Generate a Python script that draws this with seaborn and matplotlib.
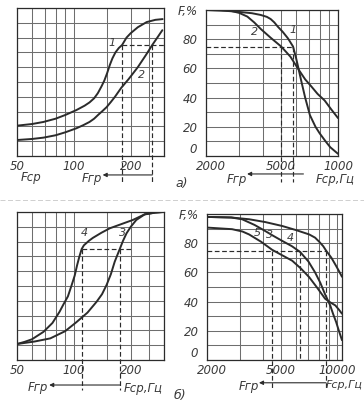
import matplotlib
matplotlib.use("Agg")
import matplotlib.pyplot as plt
from matplotlib.lines import Line2D
from matplotlib.ticker import NullFormatter
from matplotlib.transforms import ScaledTranslation
import numpy as np
import pandas as pd
import seaborn as sns

# ---------------- data ----------------
# panel a), left: F(%) vs F_cp (Hz), low-frequency part
a_l_f1 = [50, 60, 69, 80, 90, 103, 114, 121, 128, 134, 140, 145, 150, 155, 160, 166, 173, 180, 190, 200, 218, 243, 270, 295]
a_l_F1 = [20.5, 21.6, 23, 25.2, 27.7, 31, 34, 36.2, 39, 42.5, 47, 51, 56, 61.5, 66, 70, 73, 75, 80, 83, 87, 90.5, 92, 92.5]
a_l_f2 = [50, 60, 69, 80, 90, 103, 112, 121, 128, 135, 142, 149, 157, 165, 178, 195, 218, 240, 260, 280, 294]
a_l_F2 = [10.8, 11.5, 12.4, 14, 16, 18.7, 20.8, 23, 25.2, 28, 30.5, 33, 36.5, 40, 46, 52, 60, 68, 75, 81, 85]
a_l_fgr = [180, 260]

# panel a), right: high-frequency part
a_r_f1 = [2000, 2400, 2940, 3500, 3900, 4200, 4400, 4600, 4800, 5100, 5430, 5780, 6000, 6150, 6400, 6700, 7100, 7600, 8000, 8600, 9100, 10000]
a_r_F1 = [100, 99.7, 98.8, 97.8, 96.6, 95.3, 93.8, 91.5, 88.6, 85, 80.6, 75, 67, 61, 51, 40, 28, 20, 15.5, 10, 6, 1.5]
a_r_f2 = [2000, 2300, 2690, 3000, 3310, 3600, 3900, 4400, 5000, 5600, 6200, 6700, 7240, 7800, 8500, 9200, 10000]
a_r_F2 = [100, 99.8, 99.5, 98, 95.5, 91.5, 87, 81, 75, 68, 59, 52.5, 47.5, 42.5, 38, 32, 26]
a_r_fgr = [5000, 5800]

# panel б), left
b_l_f4 = [50, 55, 60, 69, 77, 84, 88, 93, 97, 101, 104, 107, 110, 113, 120, 126, 140, 155, 180, 205, 237, 270, 296]
b_l_F4 = [10.8, 12.3, 14, 19, 25, 32.6, 37.5, 43, 50, 57, 64, 70, 75, 77.5, 80.5, 82.5, 86, 89, 92, 94.6, 98.4, 99.6, 100]
b_l_f3 = [50, 62, 75, 90, 103, 118, 132, 141, 149, 157, 164.5, 170, 175, 182, 190, 200, 214, 237, 270, 296]
b_l_F3 = [10.8, 12.5, 14.6, 19.5, 25.5, 32, 39.4, 44.5, 50.7, 58, 66.4, 71, 75, 80.5, 85.6, 90, 94.6, 98.4, 99.6, 100]
b_l_fgr = [110, 175]

# panel б), right
b_r_f4 = [2000, 2700, 3364, 4100, 5060, 6000, 7070, 7600, 8000, 8400, 8700, 9300, 9800, 10200, 10600]
b_r_F4 = [98, 97.6, 96.4, 94.5, 91.8, 89, 86, 83.8, 81, 78, 75, 70, 65, 61, 57]
b_r_f3 = [2000, 2700, 3086, 3600, 4100, 4500, 5060, 5700, 6320, 7000, 7600, 8100, 8600, 9160, 9500, 9860, 10200, 10600]
b_r_F3 = [98, 97.6, 96.4, 92.5, 88.4, 85.3, 81.6, 78, 74, 67.5, 60, 53, 45, 37.4, 31.5, 26, 20, 13.6]
b_r_f5 = [2000, 2726, 3100, 3364, 3900, 4470, 5100, 5730, 6400, 7070, 7800, 8600, 9160, 9760, 10200, 10600]
b_r_F5 = [90.7, 89.6, 88, 86, 81, 75.5, 71.5, 68, 62.5, 56.7, 49.5, 42, 39.5, 37.4, 34.5, 31.7]
b_r_fgr = [4470, 6320, 8700]

low_grid = [50, 60, 70, 80, 90, 100, 150, 200, 250, 300]
low_ticks = [50, 100, 200]
low_labels = ["50", "100", "200"]
high_grid = [2000, 3000, 4000, 5000, 6000, 7000, 8000, 9000, 10000]
high_ticks = [2000, 5000, 10000]
a_high_labels = ["2000", "5000", "1000"]
b_high_labels = ["2000", "5000", "10000"]
y_ticks = [0, 20, 40, 60, 80, 100]
y_labels = ["0", "20", "40", "60", "80", "F,%"]
F_level = 75

# ---------------- style ----------------
sns.set_theme(style="white")
plt.rcParams["font.family"] = ["Liberation Sans Narrow", "DejaVu Sans"]
plt.rcParams["font.style"] = "italic"

INK = "#2b2b2b"
GRID = "#6e6e6e"
TXT = "#3a3a3a"
W, H = 364, 409

fig = plt.figure(figsize=(W / 100, H / 100), dpi=100)
fig.patch.set_facecolor("white")


def box(x0, y0, x1, y1):
    return [x0 / W, 1 - y1 / H, (x1 - x0) / W, (y1 - y0) / H]


def shift(label, dx_px, dy_px):
    label.set_transform(label.get_transform() +
                        ScaledTranslation(dx_px / 100, dy_px / 100, fig.dpi_scale_trans))


def setup(ax, xlim, grid, ticks, labels, ylabels):
    ax.set_facecolor("white")
    ax.set_xscale("log")
    ax.set_xlim(*xlim)
    ax.set_ylim(0, 100)
    ax.set_xticks(ticks)
    ax.set_xticklabels(labels)
    ax.set_xticks(grid, minor=True)
    ax.xaxis.set_minor_formatter(NullFormatter())
    ax.set_yticks(list(range(0, 101, 10)), minor=True)
    if ylabels:
        ax.set_yticks(y_ticks)
        ax.set_yticklabels(y_labels)
    else:
        ax.set_yticks([])
    ax.grid(which="both", color=GRID, lw=0.75)
    ax.tick_params(which="both", length=0, labelsize=8.5, labelcolor=TXT)
    ax.tick_params(axis="x", pad=3)
    ax.tick_params(axis="y", pad=6)
    for s in ax.spines.values():
        s.set_color(INK)
        s.set_linewidth(0.9)
    if ylabels:
        # keep the corner labels apart, as in the original drawing
        ylabs = ax.get_yticklabels()
        ylabs[0].set_verticalalignment("bottom")
        shift(ylabs[0], -1, 0)
        shift(ax.get_xticklabels()[0], 5, 0)


def curve(ax, f, F):
    df = pd.DataFrame({"f": f, "F": F})
    sns.lineplot(data=df, x="f", y="F", ax=ax, color=INK, lw=1.4,
                 estimator=None, sort=True, legend=False)
    ax.set_xlabel("")
    ax.set_ylabel("")


def dashes(ax, fgr, ext, x_end, x_start=None, below=None):
    dash = (0, (4, 2.2))
    xs = x_start if x_start is not None else min(fgr)
    ax.plot([xs, x_end], [F_level, F_level], ls=dash, color=INK, lw=0.85)
    for i, x in enumerate(fgr):
        lo = ext if (below is None or below[i]) else 0
        ax.plot([x, x], [F_level, lo], ls=dash, color=INK, lw=0.85, clip_on=False)


def arrow(ax, x_from, x_to, y):
    ax.annotate("", xy=(x_to, y), xytext=(x_from, y), annotation_clip=False,
                arrowprops=dict(arrowstyle="-|>", color=INK, lw=0.8,
                                mutation_scale=6, shrinkA=0, shrinkB=0))


def txt(ax, x, y, s, ha="center", size=8.5):
    ax.text(x, y, s, ha=ha, va="center", fontsize=size, color=TXT, clip_on=False)


# ---------------- panel а) left ----------------
ax1 = fig.add_axes(box(17, 8, 164, 156))
setup(ax1, (50, 300), low_grid, low_ticks, low_labels, False)
curve(ax1, a_l_f1, a_l_F1)
curve(ax1, a_l_f2, a_l_F2)
dashes(ax1, a_l_fgr, -18, 300, x_start=a_l_fgr[0])
arrow(ax1, a_l_fgr[1], 142, -12.8)
txt(ax1, 59, -14.2, "Fср")
txt(ax1, 141, -15, "Fгр", ha="right")
txt(ax1, 160, 76.5, "1", size=8)
txt(ax1, 229, 54.7, "2", size=8)

# ---------------- panel а) right ----------------
ax2 = fig.add_axes(box(206, 10, 338, 156))
setup(ax2, (2000, 10000), high_grid, high_ticks, a_high_labels, True)
curve(ax2, a_r_f1, a_r_F1)
curve(ax2, a_r_f2, a_r_F2)
dashes(ax2, a_r_fgr, -18, max(a_r_fgr), x_start=2000)
arrow(ax2, 6560, 3300, -12.3)
txt(ax2, 3300, -16.4, "Fгр", ha="right")
txt(ax2, 9700, -16.4, "Fср,Гц")
txt(ax2, 3620, 85, "2", size=8)
txt(ax2, 5800, 86.3, "1", size=8)

# ---------------- panel б) left ----------------
ax3 = fig.add_axes(box(17, 212, 164, 360))
setup(ax3, (50, 300), low_grid, low_ticks, low_labels, False)
curve(ax3, b_l_f4, b_l_F4)
curve(ax3, b_l_f3, b_l_F3)
dashes(ax3, b_l_fgr, -20, 205, x_start=b_l_fgr[0])
arrow(ax3, b_l_fgr[1], 74, -16.9)
txt(ax3, 73, -18.4, "Fгр", ha="right")
txt(ax3, 234, -19, "Fср,Гц")
txt(ax3, 114, 85.8, "4", size=8)
txt(ax3, 181, 85.8, "3", size=8)

# ---------------- panel б) right ----------------
ax4 = fig.add_axes(box(207, 214, 342, 360))
setup(ax4, (2000, 10600), high_grid, high_ticks, b_high_labels, True)
curve(ax4, b_r_f4, b_r_F4)
curve(ax4, b_r_f3, b_r_F3)
curve(ax4, b_r_f5, b_r_F5)
dashes(ax4, b_r_fgr, -20, max(b_r_fgr), x_start=2000, below=[True, False, True])
arrow(ax4, 8700, 3800, -15.6)
txt(ax4, 3800, -18.4, "Fгр", ha="right")
txt(ax4, 10900, -17, "Fср,Гц", size=8)
txt(ax4, 3720, 87, "5", size=8)
txt(ax4, 4310, 85.7, "3", size=8)
txt(ax4, 5580, 83.7, "4", size=8)

# panel captions and faint page separator
fig.text(182 / W, 1 - 183 / H, "а)", ha="center", va="center", fontsize=9, color=TXT)
fig.text(180 / W, 1 - 396 / H, "б)", ha="center", va="center", fontsize=9, color=TXT)
fig.add_artist(Line2D([0, 1], [1 - 200 / H] * 2, color="#c8c8c8", lw=0.6,
                      ls=(0, (6, 3)), transform=fig.transFigure))

fig.savefig("out.png", dpi=100, facecolor="white")
